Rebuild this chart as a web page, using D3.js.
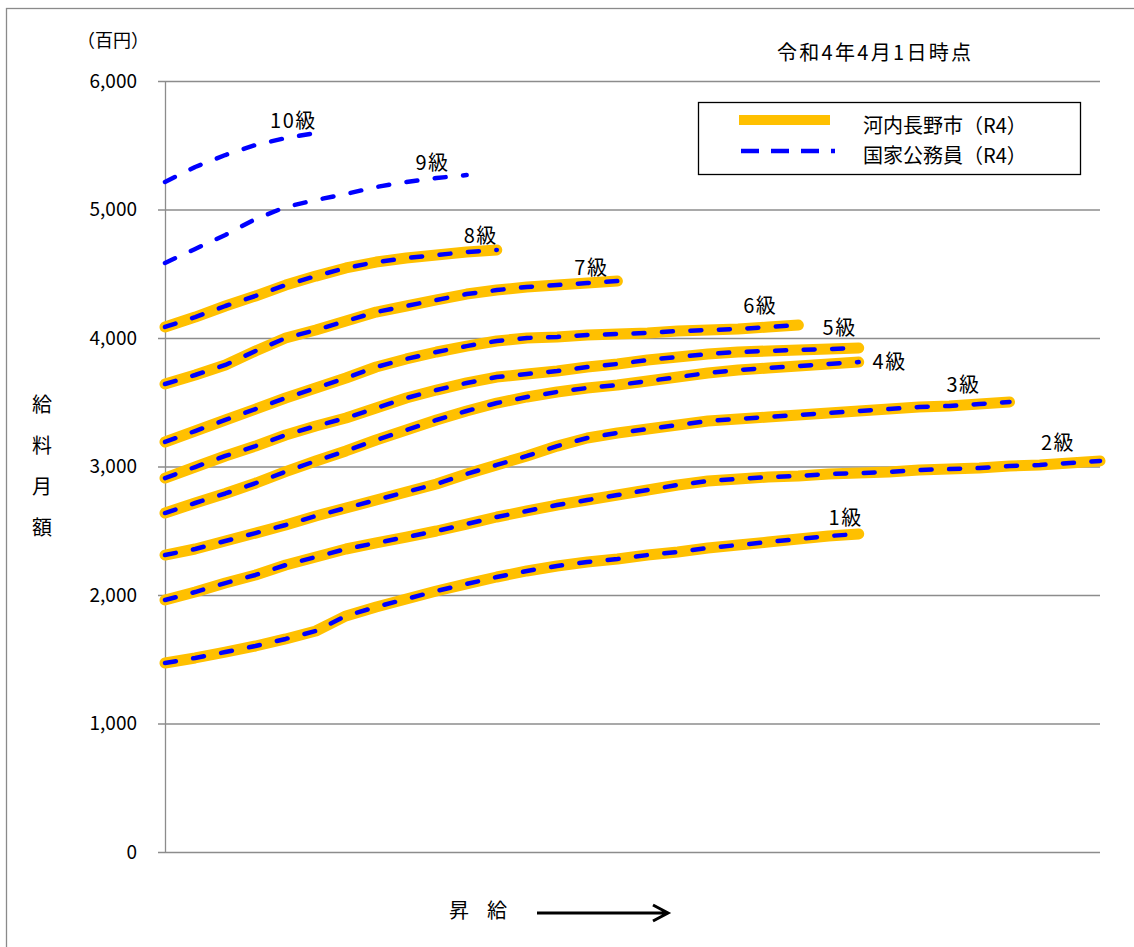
<!DOCTYPE html>
<html>
<head>
<meta charset="utf-8">
<script src="https://cdn.jsdelivr.net/npm/d3@7"></script>
<style>
body { margin: 0; background: #fff; }
text { font-family: "Noto Sans CJK JP", "Noto Sans", sans-serif; fill: #000; }
</style>
</head>
<body>
<div id="chart"></div>
<script>
// 号給 (every 4th step) along the x axis
const steps = [1, 5, 9, 13, 17, 21, 25, 29, 33, 37, 41, 45, 49, 53, 57, 61,
               65, 69, 73, 77, 81, 85, 89, 93, 97, 101, 105, 109, 113, 117, 121, 125];

// 国家公務員 monthly pay (百円) per grade
const grade1 = [1471, 1510, 1556, 1603, 1658, 1720, 1837, 1907, 1969, 2031, 2086, 2140,
                2187, 2226, 2257, 2280, 2311, 2335, 2366, 2389, 2412, 2436, 2459, 2475];
const grade2 = [1961, 2023, 2093, 2156, 2233, 2296, 2358, 2405, 2451, 2498, 2552, 2607,
                2654, 2700, 2739, 2778, 2817, 2856, 2887, 2903, 2918, 2926, 2942, 2949,
                2957, 2973, 2980, 2988, 3004, 3012, 3027, 3043];
const grade3 = [2311, 2358, 2420, 2482, 2545, 2615, 2677, 2739, 2802, 2864, 2942, 3012,
                3082, 3159, 3222, 3261, 3292, 3323, 3354, 3370, 3385, 3401, 3416, 3432,
                3447, 3463, 3471, 3486, 3502];
const grade4 = [2638, 2716, 2790, 2870, 2960, 3043, 3121, 3206, 3284, 3362, 3432, 3494,
                3541, 3580, 3611, 3634, 3665, 3696, 3728, 3751, 3766, 3782, 3798, 3813];
const grade5 = [2910, 2996, 3082, 3159, 3245, 3315, 3377, 3455, 3533, 3595, 3650, 3696,
                3720, 3743, 3774, 3798, 3829, 3852, 3875, 3891, 3899, 3907, 3914, 3922];
const grade6 = [3191, 3276, 3362, 3447, 3533, 3611, 3689, 3774, 3837, 3891, 3937, 3977,
                4000, 4008, 4023, 4031, 4039, 4054, 4062, 4070, 4085, 4101];
const grade7 = [3642, 3712, 3790, 3899, 4000, 4062, 4132, 4202, 4249, 4296, 4342, 4373,
                4397, 4412, 4428, 4443];
const grade8 = [4086, 4163, 4249, 4327, 4412, 4482, 4545, 4591, 4622, 4646, 4669, 4685];
const grade9 = [4584, 4693, 4802, 4926, 5019, 5074, 5121, 5175, 5214, 5245, 5268];
const grade10 = [5214, 5331, 5424, 5502, 5556, 5595];

const gradeNames = ["1級", "2級", "3級", "4級", "5級", "6級", "7級", "8級", "9級", "10級"];
const national = [grade1, grade2, grade3, grade4, grade5, grade6, grade7, grade8, grade9, grade10];
// 河内長野市 uses the same table for 1級〜8級
const cityGrades = [0, 1, 2, 3, 4, 5, 6, 7];

const yTicks = [0, 1000, 2000, 3000, 4000, 5000, 6000];

const width = 1134, height = 947;
const plotLeft = 165, plotRight = 1100, plotTop = 81, plotBottom = 852;

const svg = d3.select("#chart").append("svg")
    .attr("width", width)
    .attr("height", height);

// outer frame
svg.append("rect")
    .attr("x", 6.5).attr("y", 8.5)
    .attr("width", 1140).attr("height", 960)
    .attr("fill", "none")
    .attr("stroke", "#8a8a8a")
    .attr("stroke-width", 1.3);

const x = d3.scaleLinear().domain([1, 125]).range([plotLeft, plotRight]);
const y = d3.scaleLinear().domain([0, 6000]).range([plotBottom, plotTop]);

// gridlines + ticks
svg.append("g")
    .attr("transform", `translate(${plotRight},0)`)
    .call(d3.axisLeft(y).tickValues(yTicks).tickSize(plotRight - plotLeft + 7).tickFormat(""))
    .call(g => g.select(".domain").remove())
    .call(g => g.selectAll("line").attr("stroke", "#8c8c8c").attr("stroke-width", 1.3));

// y axis line + labels
svg.append("g")
    .attr("transform", `translate(${plotLeft},0)`)
    .call(d3.axisLeft(y).tickValues(yTicks).tickSize(0).tickPadding(28).tickFormat(d3.format(",")))
    .call(g => g.select(".domain").attr("stroke", "#8c8c8c").attr("stroke-width", 1.3))
    .call(g => g.selectAll("text")
        .attr("font-size", 19)
        .attr("font-family", "'Noto Sans CJK JP', sans-serif")
        .attr("fill", "#000"));

const line = d3.line()
    .x((d, i) => x(steps[i]))
    .y(d => y(d));

// city (orange, thick)
svg.append("g")
    .selectAll("path")
    .data(cityGrades)
    .enter()
    .append("path")
    .attr("d", gi => line(national[gi]))
    .attr("fill", "none")
    .attr("stroke", "#FFC000")
    .attr("stroke-width", 11)
    .attr("stroke-linecap", "round")
    .attr("stroke-linejoin", "round");

// national (blue dashed)
svg.append("g")
    .selectAll("path")
    .data(national)
    .enter()
    .append("path")
    .attr("d", d => line(d))
    .attr("fill", "none")
    .attr("stroke", "#0000FF")
    .attr("stroke-width", 4.5)
    .attr("stroke-dasharray", "11 17.5")
    .attr("stroke-linecap", "round")
    .attr("stroke-linejoin", "round");

// grade labels near line ends
const labelOffsets = [[4, -9], [-25, -11], [-29, -10], [48, 7], [-2, -13],
                      [-21, -12], [-9, -6], [1, -7], [-17, -5], [1, -5]];
svg.append("g")
    .selectAll("text")
    .data(national)
    .enter()
    .append("text")
    .attr("x", (d, i) => x(steps[d.length - 1]) + labelOffsets[i][0])
    .attr("y", (d, i) => y(d[d.length - 1]) + labelOffsets[i][1])
    .attr("text-anchor", "end")
    .attr("font-size", 20)
    .attr("letter-spacing", 1.5)
    .text((d, i) => gradeNames[i]);

// unit
svg.append("text")
    .attr("x", 77).attr("y", 47)
    .attr("font-size", 18)
    .text("（百円）");

// date note
svg.append("text")
    .attr("x", 777).attr("y", 60)
    .attr("font-size", 20)
    .attr("letter-spacing", 2.3)
    .text("令和4年4月1日時点");

// y title (vertical)
const yTitle = ["給", "料", "月", "額"];
svg.append("g")
    .selectAll("text")
    .data(yTitle)
    .enter()
    .append("text")
    .attr("x", 42)
    .attr("y", (d, i) => 412 + i * 41)
    .attr("text-anchor", "middle")
    .attr("font-size", 20)
    .text(d => d);

// x title with arrow
const xTitle = ["昇", "給"];
svg.append("g")
    .selectAll("text")
    .data(xTitle)
    .enter()
    .append("text")
    .attr("x", (d, i) => 449 + i * 38)
    .attr("y", 918)
    .attr("font-size", 20)
    .text(d => d);
svg.append("path")
    .attr("d", "M537,913 H668 M653,905 L668,913 L653,921")
    .attr("fill", "none")
    .attr("stroke", "#000")
    .attr("stroke-width", 3);

// legend
const legend = svg.append("g");
legend.append("rect")
    .attr("x", 698.5).attr("y", 102.5)
    .attr("width", 382).attr("height", 72)
    .attr("fill", "#fff")
    .attr("stroke", "#000")
    .attr("stroke-width", 1.3);
legend.append("line")
    .attr("x1", 739).attr("x2", 830).attr("y1", 120).attr("y2", 120)
    .attr("stroke", "#FFC000").attr("stroke-width", 10);
legend.append("line")
    .attr("x1", 741).attr("x2", 835).attr("y1", 151).attr("y2", 151)
    .attr("stroke", "#0000FF").attr("stroke-width", 4.5)
    .attr("stroke-dasharray", "18 12");
legend.append("text")
    .attr("x", 863).attr("y", 133)
    .attr("font-size", 20)
    .text("河内長野市（R4）");
legend.append("text")
    .attr("x", 863).attr("y", 163)
    .attr("font-size", 20)
    .text("国家公務員（R4）");
</script>
</body>
</html>
